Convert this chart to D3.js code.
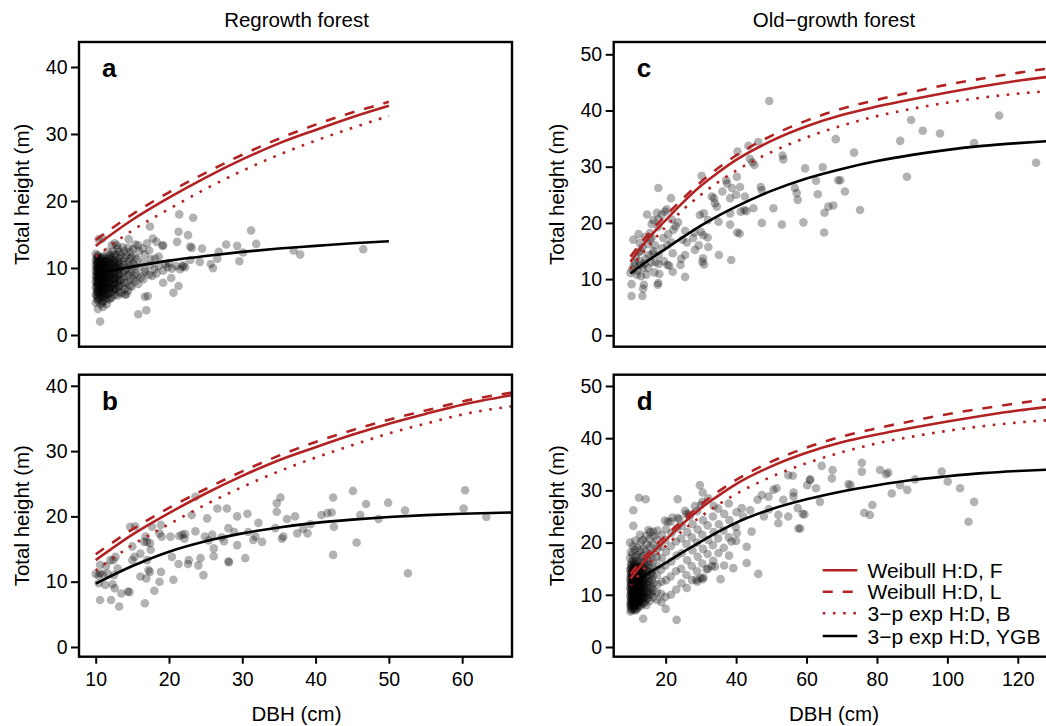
<!DOCTYPE html>
<html>
<head>
<meta charset="utf-8">
<script src="https://cdn.jsdelivr.net/npm/d3@7"></script>
<style>
  body { margin: 0; background: #fff; }
  svg { display: block; }
</style>
</head>
<body>
<div class="container"></div>
<script>
// ---------- data ----------
// fitted curves
var dbhAB = [10, 15, 20, 25, 30, 35, 40, 45, 50, 55, 60, 67];
var weibullF_AB = [13.3, 17.2, 20.5, 23.5, 26.2, 28.6, 30.6, 32.5, 34.2, 35.7, 37.1, 38.6];
var weibullL_AB = [14.2, 18.0, 21.3, 24.2, 26.9, 29.3, 31.4, 33.2, 34.8, 36.2, 37.6, 39.0];
var expB_AB     = [11.7, 15.6, 18.8, 21.8, 24.5, 26.9, 29.0, 30.9, 32.7, 34.2, 35.6, 36.9];
var ygbA        = [9.2, 10.2, 11.1, 11.8, 12.4, 12.9, 13.3, 13.7, 14.0];
var ygbB        = [9.7, 12.4, 14.6, 16.2, 17.4, 18.3, 19.0, 19.5, 19.9, 20.2, 20.4, 20.6];

var dbhCD = [10, 15, 20, 25, 30, 35, 40, 50, 60, 70, 80, 90, 100, 110, 120, 130];
var weibullF_CD = [13.1, 17.2, 20.5, 23.7, 26.6, 29.0, 31.2, 34.6, 37.2, 39.2, 40.7, 42.0, 43.2, 44.3, 45.3, 46.1];
var weibullL_CD = [14.0, 18.0, 21.3, 24.4, 27.3, 29.8, 32.0, 35.5, 38.2, 40.3, 41.9, 43.3, 44.6, 45.7, 46.7, 47.6];
var expB_CD     = [11.8, 15.8, 19.3, 22.4, 25.0, 27.3, 29.3, 32.6, 35.2, 37.3, 39.0, 40.3, 41.4, 42.3, 43.0, 43.5];
var ygbC        = [11.0, 13.3, 15.4, 17.5, 19.5, 21.3, 22.9, 25.7, 27.9, 29.6, 31.0, 32.1, 33.0, 33.7, 34.2, 34.6];
var ygbD        = [12.1, 14.1, 16.1, 18.2, 20.2, 22.1, 23.8, 26.4, 28.3, 29.8, 31.0, 32.0, 32.7, 33.3, 33.7, 34.0];

// trees (DBH cm, height m)
var treesA = [
  [10.6,2.0],[15.8,3.1],[16.9,3.7],[16.7,5.7],[17.1,5.8],[20.6,6.3],[21.3,7.3],[20.3,8.5],[19.2,7.8],[14.0,6.0],[14.2,6.1],[11.5,4.6],
  [21.8,10.2],[22.2,10.1],[21.1,13.9],[21.3,15.4],[21.4,18.0],[23.3,17.5],[22.6,14.9],[22.9,13.2],[23.1,13.0],[22.9,11.2],[24.2,10.9],
  [24.5,12.9],[25.7,10.6],[26.0,9.95],[26.6,11.4],[26.8,12.4],[27.8,13.5],[29.3,13.3],[29.6,11.0],[30.1,12.3],[31.2,15.6],[31.9,13.6],
  [37.0,12.6],[37.9,12.0],[46.5,12.8],[17.4,16.2],[17.8,14.4],[17.0,13.7],[16.4,12.9],[19.1,13.3],[18.1,11.4],[18.6,11.7],[20.0,10.7],
  [14.5,14.3],[15.4,13.5],[12.9,13.4],[10.4,14.3],[10.9,14.4],[12.2,13.4],[12.6,13.7],[15.8,13.4],[18.3,13.9],[19.2,13.4],
  [17.4,10.4],[18.0,9.8],[18.6,10.3],[19.2,9.6],[19.8,10.1],[20.4,9.9],[21.0,10.3],[21.5,9.8],[22.0,10.4],[19.5,10.6],[18.3,9.2],
  [17.7,8.8],[16.8,9.4],[16.2,8.6],[10.3,3.9],[11.0,4.2]
];
var treesAdense = [
  [10.0,4.8],[10.2,5.4],[10.0,6.0],[10.2,6.6],[10.0,7.1],[10.2,7.6],[10.0,8.0],[10.2,8.4],[10.0,8.8],[10.2,9.2],[10.0,9.6],[10.2,10.0],
  [10.0,10.4],[10.2,10.8],[10.0,11.2],[10.2,11.7],[10.0,12.1],
  [10.7,4.6],[10.5,5.3],[10.7,6.0],[10.5,6.6],[10.7,7.2],[10.5,7.7],[10.7,8.2],[10.5,8.6],[10.7,9.0],[10.5,9.4],[10.7,9.8],[10.5,10.2],
  [10.7,10.6],[10.5,11.1],[10.7,11.6],
  [11.0,5.0],[11.2,5.7],[11.0,6.4],[11.2,7.0],[11.0,7.6],[11.2,8.1],[11.0,8.6],[11.2,9.1],[11.0,9.6],[11.2,10.1],[11.0,10.6],[11.2,11.1],[11.0,11.7],
  [11.8,5.3],[11.6,6.1],[11.8,6.8],[11.6,7.4],[11.8,8.0],[11.6,8.6],[11.8,9.2],[11.6,9.8],[11.8,10.4],[11.6,11.0],[11.8,11.7],[11.6,12.4],
  [12.2,5.6],[12.4,6.5],[12.2,7.3],[12.4,8.0],[12.2,8.7],[12.4,9.4],[12.2,10.1],[12.4,10.8],[12.2,11.6],[12.4,12.5],
  [13.0,5.9],[12.8,6.9],[13.0,7.8],[12.8,8.6],[13.0,9.4],[12.8,10.2],[13.0,11.0],[12.8,11.9],[13.0,12.9],
  [13.5,6.2],[13.7,7.3],[13.5,8.3],[13.7,9.2],[13.5,10.1],[13.7,11.0],[13.5,12.0],[13.7,13.1],
  [14.4,6.6],[14.2,7.8],[14.4,8.9],[14.2,9.9],[14.4,10.9],[14.2,11.9],[14.4,13.0],
  [14.9,7.2],[15.1,8.4],[14.9,9.5],[15.1,10.6],[14.9,11.7],[15.1,12.8],
  [15.8,7.6],[15.7,8.9],[15.9,10.1],[15.7,11.3],[15.9,12.5],
  [16.5,8.3],[16.7,9.6],[16.5,10.8],[16.7,12.0],
  [17.3,9.0],[17.5,11.3],[17.3,12.6]
];
var treesAdense2 = [
  [10.3,5.1],[10.3,5.7],[10.3,6.3],[10.3,6.9],[10.3,7.4],[10.3,7.8],[10.3,8.2],[10.3,8.6],[10.3,9.0],[10.3,9.4],[10.3,9.8],[10.3,10.2],
  [10.3,10.6],[10.3,11.0],[10.3,11.5],[10.3,11.9],
  [10.9,4.9],[10.9,5.6],[10.9,6.3],[10.9,6.9],[10.9,7.4],[10.9,7.9],[10.9,8.4],[10.9,8.8],[10.9,9.2],[10.9,9.6],[10.9,10.0],[10.9,10.4],
  [10.9,10.9],[10.9,11.4],
  [11.4,5.4],[11.4,6.0],[11.4,6.7],[11.4,7.3],[11.4,7.8],[11.4,8.3],[11.4,8.9],[11.4,9.4],[11.4,9.9],[11.4,10.4],[11.4,10.9],[11.4,11.4],
  [12.0,5.5],[12.0,6.3],[12.0,7.0],[12.0,7.7],[12.0,8.3],[12.0,8.9],[12.0,9.5],[12.0,10.1],[12.0,10.7],[12.0,11.3],[12.0,12.0],
  [12.6,6.0],[12.6,6.9],[12.6,7.6],[12.6,8.3],[12.6,9.0],[12.6,9.8],[12.6,10.5],[12.6,11.2],[12.6,12.0],
  [13.2,6.4],[13.2,7.3],[13.2,8.2],[13.2,9.0],[13.2,9.8],[13.2,10.6],[13.2,11.5],[13.2,12.4],
  [13.9,6.8],[13.9,7.8],[13.9,8.7],[13.9,9.6],[13.9,10.5],[13.9,11.5],[13.9,12.5],
  [14.7,7.3],[14.7,8.3],[14.7,9.4],[14.7,10.4],[14.7,11.4],[14.7,12.4],
  [15.4,8.0],[15.4,9.2],[15.4,10.3],[15.4,11.5]
];
var treesAdense3 = [
  [10.15,5.9],[10.15,6.5],[10.15,7.2],[10.15,7.9],[10.15,8.6],[10.15,9.3],[10.15,10.0],[10.15,10.7],[10.15,11.4],
  [10.45,6.2],[10.45,6.9],[10.45,7.6],[10.45,8.3],[10.45,9.0],[10.45,9.7],[10.45,10.4],[10.45,11.1],
  [10.8,5.8],[10.8,6.5],[10.8,7.2],[10.8,7.9],[10.8,8.6],[10.8,9.3],[10.8,10.0],[10.8,10.7],[10.8,11.4],
  [11.3,6.1],[11.3,6.8],[11.3,7.5],[11.3,8.2],[11.3,8.9],[11.3,9.6],[11.3,10.3],[11.3,11.0],
  [11.9,6.4],[11.9,7.1],[11.9,7.8],[11.9,8.5],[11.9,9.2],[11.9,9.9],[11.9,10.6],[11.9,11.3],
  [12.5,6.8],[12.5,7.6],[12.5,8.4],[12.5,9.2],[12.5,10.0],[12.5,10.8],
  [13.1,7.2],[13.1,8.1],[13.1,9.0],[13.1,9.9],[13.1,10.8]
];
var treesB = [
  [10.0,11.2],[10.6,12.6],[10.4,11.0],[11.0,11.1],[11.6,11.3],[10.4,9.75],[11.3,9.5],[10.6,7.2],[12.1,7.2],[13.2,6.2],[12.6,9.0],
  [12.3,9.6],[13.5,8.2],[14.4,8.5],[12.0,13.3],[11.4,12.4],[12.7,13.8],[13.0,12.0],[12.5,11.0],[15.0,13.3],[15.3,13.8],[15.0,15.4],
  [14.7,18.4],[15.4,18.5],[16.8,16.9],[16.6,16.1],[17.4,15.9],[16.1,14.3],[17.0,13.3],[17.5,14.9],[17.7,18.4],[18.9,18.7],[19.0,16.9],
  [16.1,10.8],[16.9,10.5],[17.4,11.5],[18.0,8.6],[18.7,10.0],[18.9,11.5],[16.7,6.7],[14.6,8.4],[20.2,16.9],[20.4,13.8],[20.6,10.3],
  [21.4,17.0],[21.8,17.2],[22.1,16.6],[22.2,17.3],[22.7,13.3],[21.3,12.7],[22.6,12.7],[23.6,17.7],[24.0,12.5],[24.3,13.6],[24.7,11.0],
  [25.2,19.7],[23.6,23.0],[24.9,16.9],[25.4,16.3],[25.9,17.2],[26.1,15.1],[26.1,13.9],[26.6,21.2],[27.9,21.2],[27.2,16.8],[27.5,16.2],
  [28.1,18.2],[28.9,17.6],[29.3,20.0],[28.1,13.1],[28.2,13.0],[29.3,15.6],[30.4,13.6],[30.7,20.4],[30.8,17.6],[31.5,16.4],[31.8,16.9],
  [32.2,19.0],[32.7,16.1],[34.7,22.0],[35.2,22.9],[34.7,20.7],[35.4,16.6],[35.6,16.9],[34.5,18.2],[36.1,19.6],[37.2,20.0],[37.5,17.4],
  [38.3,18.1],[38.9,17.4],[39.3,18.8],[40.8,20.2],[41.6,20.5],[42.2,20.6],[42.4,22.9],[42.5,18.4],[42.4,14.1],[45.1,23.9],[45.6,16.0],
  [46.1,20.2],[46.9,21.9],[48.6,19.6],[49.9,22.1],[52.2,20.9],[52.6,11.3],[60.4,24.0],[60.2,21.2],[63.3,19.9],[23.1,20.2],[18.7,17.4],
  [17.0,16.1],[17.2,11.8],[10.6,11.3],[12.4,13.3]
];
var treesC = [
  [10.3,7.0],[13.4,7.0],[13.8,9.0],[13.6,8.3],[10.3,9.1],[10.0,11.1],[11.3,12.9],[11.0,12.4],[10.8,17.0],[12.7,16.4],[13.0,15.0],
  [13.4,15.6],[12.5,13.2],[12.8,12.5],[13.5,12.0],[14.3,13.6],[15.2,14.3],[14.0,12.8],[17.9,9.3],[18.2,10.9],[17.9,26.2],[15.6,17.1],
  [16.0,17.4],[17.9,19.3],[17.9,20.6],[18.9,21.5],[20.3,22.4],[21.5,24.4],[21.7,20.6],[15.5,18.2],[16.0,19.8],[14.7,21.5],[16.5,15.0],
  [18.0,14.3],[17.1,13.0],[18.0,12.7],[16.8,11.2],[22.0,11.3],[20.5,12.5],[21.0,12.4],[22.0,14.6],[20.5,16.0],[21.5,16.6],[20.7,18.0],
  [22.2,18.8],[22.8,19.4],[23.5,20.1],[25.5,10.4],[24.2,12.5],[24.4,13.6],[25.5,14.3],[24.8,17.0],[26.0,16.5],[25.5,18.6],[27.8,17.3],
  [28.2,18.3],[28.3,15.2],[29.7,21.4],[30.2,28.4],[30.4,13.1],[30.6,13.7],[30.9,12.6],[30.8,21.7],[30.0,18.4],[30.7,17.8],[31.9,17.4],
  [29.4,16.0],[32.1,15.7],[32.0,20.5],[33.1,24.7],[33.7,24.4],[34.0,23.5],[34.5,22.9],[35.0,20.2],[35.1,14.3],[36.1,25.6],[37.2,27.6],
  [37.4,27.0],[38.3,24.4],[38.6,13.4],[38.3,21.7],[38.3,19.7],[38.8,26.2],[40.0,25.0],[40.2,28.2],[40.3,18.3],[41.0,18.1],[40.4,32.7],
  [41.1,26.4],[41.3,22.0],[42.3,22.3],[42.9,22.1],[42.5,24.7],[43.5,33.7],[43.9,31.4],[44.6,30.8],[44.9,22.6],[45.2,30.3],[46.3,34.4],
  [47.0,26.4],[47.3,20.0],[47.3,25.8],[49.4,41.7],[50.6,22.6],[53.0,19.7],[53.2,32.0],[53.4,31.3],[56.7,26.2],[57.2,25.3],[57.5,24.1],
  [59.1,20.1],[59.6,29.7],[62.7,27.5],[63.2,25.1],[64.6,29.9],[65.1,21.8],[65.0,18.3],[66.2,22.9],[67.6,23.1],[68.3,34.9],[69.0,27.6],
  [69.6,27.6],[70.9,25.6],[73.5,32.5],[75.2,22.3],[86.6,34.6],[88.5,28.2],[89.7,38.3],[93.0,36.4],[97.9,35.9],[107.6,34.2],[114.7,39.1],
  [125.2,30.7],[11.5,14.0],[12.0,11.5],[13.0,10.5],[14.5,10.8],[15.0,12.0],[15.8,13.0],[16.3,14.5],[17.0,16.0],[12.3,18.0],[14.2,17.5],
  [15.0,16.2],[19.0,15.5],[19.5,13.2],[19.3,17.3],[11.8,10.8],[10.5,11.8],[12.3,14.8],[16.5,20.5],[17.5,21.8],[17.7,9.0],[19.8,22.0]
];
var treesD = [
  [13.6,5.4],[23.1,5.2],[10.8,26.2],[10.8,23.2],[12.4,28.6],[14.3,28.3],[23.4,28.3],[29.7,31.0],[30.5,29.6],[28.3,27.0],[30.0,27.2],
  [26.8,25.0],[26.5,25.4],[23.9,24.5],[21.9,24.8],[20.6,24.0],[15.1,22.4],[16.5,22.1],[19.8,24.2],[23.4,24.7],[25.5,26.1],
  [46.3,14.0],[43.0,16.1],[39.2,15.1],[36.6,15.6],[35.6,13.0],[34.0,15.4],[33.1,15.5],[30.7,13.3],[29.9,13.2],[28.7,12.9],[31.6,14.9],
  [38.7,20.2],[40.2,21.8],[43.0,19.2],[41.6,26.6],[42.0,25.0],[44.4,22.1],[44.0,26.2],[46.1,28.2],[47.3,29.1],[49.2,28.8],[47.9,25.0],
  [49.3,26.4],[50.6,30.1],[52.0,25.3],[52.0,23.7],[51.5,30.4],[53.4,28.2],[56.3,29.6],[54.8,25.0],[54.8,32.9],[56.1,32.8],[56.3,28.8],
  [57.5,26.6],[58.2,22.7],[57.7,22.7],[59.4,25.4],[58.9,25.5],[60.2,31.0],[61.0,32.1],[61.0,32.0],[62.7,30.4],[63.8,27.8],[64.3,34.7],
  [67.2,32.3],[67.4,33.9],[71.9,31.2],[72.5,31.0],[75.7,35.3],[75.7,33.6],[76.4,25.7],[78.0,25.3],[78.7,27.2],[80.9,33.9],[83.2,33.4],
  [82.6,33.1],[84.2,29.4],[86.6,31.0],[88.6,30.1],[90.8,32.1],[98.4,33.6],[100.1,31.7],[103.6,30.4],[106.0,24.0],[107.6,27.8]
];
var treesDdense = [
  [10.0,6.8],[10.1,7.5],[9.9,8.2],[10.1,9.0],[9.9,9.8],[10.1,10.6],[9.9,11.4],[10.1,12.2],[9.9,13.0],[10.1,13.9],[9.9,14.8],[10.1,15.7],[9.9,17.0],[10.1,18.2],[9.9,20.0],
  [10.6,7.2],[10.7,8.0],[10.5,8.8],[10.7,9.6],[10.5,10.4],[10.7,11.2],[10.5,12.0],[10.7,12.8],[10.5,13.6],[10.7,14.5],[10.5,15.5],[10.7,16.5],[10.5,17.7],[10.7,19.3],
  [11.3,7.0],[11.2,7.9],[11.4,8.7],[11.2,9.5],[11.4,10.3],[11.2,11.1],[11.4,11.9],[11.2,12.7],[11.4,13.5],[11.2,14.3],[11.4,15.2],[11.2,16.2],[11.4,17.3],[11.2,18.6],[11.4,20.4],
  [12.0,7.5],[12.1,8.4],[11.9,9.3],[12.1,10.1],[11.9,10.9],[12.1,11.8],[11.9,12.6],[12.1,13.5],[11.9,14.4],[12.1,15.3],[11.9,16.4],[12.1,17.6],[11.9,19.0],
  [12.8,7.8],[12.7,8.8],[12.9,9.7],[12.7,10.6],[12.9,11.5],[12.7,12.4],[12.9,13.3],[12.7,14.2],[12.9,15.1],[12.7,16.1],[12.9,17.2],[12.7,18.5],[12.9,20.1],[12.7,21.5],
  [13.6,8.3],[13.5,9.3],[13.7,10.3],[13.5,11.2],[13.7,12.2],[13.5,13.1],[13.7,14.1],[13.5,15.1],[13.7,16.2],[13.5,17.4],[13.7,18.8],[13.5,20.5],
  [14.5,8.0],[14.4,9.1],[14.6,10.2],[14.4,11.3],[14.6,12.4],[14.4,13.5],[14.6,14.6],[14.4,15.8],[14.6,17.0],[14.4,18.3],[14.6,19.7],[14.4,21.3],
  [15.5,8.8],[15.4,10.0],[15.6,11.2],[15.4,12.5],[15.6,13.8],[15.4,15.1],[15.6,16.4],[15.4,17.8],[15.6,19.2],[15.4,20.7],[15.6,22.0],
  [16.5,9.5],[16.4,10.8],[16.6,12.2],[16.4,13.6],[16.6,15.0],[16.4,16.5],[16.6,18.0],[16.4,19.6],[16.6,21.2],
  [17.6,9.0],[17.5,10.5],[17.7,12.0],[17.5,13.8],[17.7,15.5],[17.5,17.2],[17.7,18.9],[17.5,20.6],[17.7,22.3],
  [18.8,8.6],[18.7,10.2],[18.9,12.5],[18.7,14.8],[18.9,17.0],[18.7,19.2],[18.9,21.4],
  [20.0,7.3],[19.9,9.6],[20.1,12.8],[19.9,15.6],[20.1,18.2],[19.9,20.5],[20.1,22.6],
  [21.5,10.0],[21.4,13.5],[21.6,16.4],[21.4,19.3],[21.6,21.8],[21.4,24.0],
  [23.0,11.0],[22.9,14.5],[23.1,17.5],[22.9,20.2],[23.1,22.7],
  [24.5,12.2],[24.4,15.0],[24.6,18.0],[24.4,20.8],[24.6,23.2],
  [26.0,11.3],[25.9,13.8],[26.1,16.6],[25.9,19.7],[26.1,22.0],[25.9,25.5],
  [27.5,12.8],[27.4,15.5],[27.6,18.5],[27.4,21.0],[27.6,23.5],
  [29.0,12.5],[28.9,14.5],[29.1,17.3],[28.9,20.0],[29.1,22.5],[28.9,26.0],
  [30.5,13.0],[30.4,16.0],[30.6,18.8],[30.4,21.5],[30.6,24.3],[30.4,27.8],
  [32.0,15.0],[31.9,17.8],[32.1,20.5],[31.9,23.3],[32.1,28.5],
  [33.5,16.5],[33.4,19.5],[33.6,22.0],[33.4,25.0],[33.6,27.0],
  [35.0,18.0],[34.9,20.8],[35.1,23.5],[34.9,26.5],
  [36.5,19.0],[36.4,22.3],[36.6,25.5],
  [38.0,17.5],[37.9,21.0],[38.1,24.3],[37.9,27.5],
  [40.0,20.3],[39.9,23.0],[40.1,25.8]
];
var treesDdense2 = [
  [10.3,7.1],[10.3,7.9],[10.3,8.6],[10.3,9.4],[10.3,10.2],[10.3,11.0],[10.3,11.8],[10.3,12.6],[10.3,13.4],[10.3,14.3],[10.3,15.2],[10.3,16.2],
  [11.0,7.4],[11.0,8.3],[11.0,9.1],[11.0,9.9],[11.0,10.7],[11.0,11.5],[11.0,12.3],[11.0,13.1],[11.0,13.9],[11.0,14.8],[11.0,15.8],
  [11.7,7.2],[11.7,8.1],[11.7,9.0],[11.7,9.8],[11.7,10.6],[11.7,11.4],[11.7,12.3],[11.7,13.1],[11.7,14.0],[11.7,14.9],[11.7,15.9],
  [12.4,7.9],[12.4,8.9],[12.4,9.8],[12.4,10.7],[12.4,11.6],[12.4,12.5],[12.4,13.4],[12.4,14.3],[12.4,15.3],
  [13.2,8.4],[13.2,9.4],[13.2,10.4],[13.2,11.4],[13.2,12.4],[13.2,13.4],[13.2,14.5],[13.2,15.6],
  [14.0,8.6],[14.0,9.7],[14.0,10.8],[14.0,11.9],[14.0,13.0],[14.0,14.1],[14.0,15.3],
  [15.0,9.4],[15.0,10.6],[15.0,11.8],[15.0,13.1],[15.0,14.4],[15.0,15.7],
  [16.0,10.2],[16.0,11.5],[16.0,12.9],[16.0,14.3]
];
var treesDdense3 = [
  [10.15,7.8],[10.15,8.6],[10.15,9.4],[10.15,10.2],[10.15,11.0],[10.15,11.8],[10.15,12.6],[10.15,13.4],[10.15,14.2],[10.15,15.0],
  [10.6,8.2],[10.6,9.0],[10.6,9.8],[10.6,10.6],[10.6,11.4],[10.6,12.2],[10.6,13.0],[10.6,13.8],[10.6,14.6],
  [11.1,7.8],[11.1,8.6],[11.1,9.4],[11.1,10.2],[11.1,11.0],[11.1,11.8],[11.1,12.6],[11.1,13.4],[11.1,14.2],[11.1,15.0],
  [11.6,8.4],[11.6,9.2],[11.6,10.0],[11.6,10.8],[11.6,11.6],[11.6,12.4],[11.6,13.2],[11.6,14.0],
  [12.2,8.6],[12.2,9.5],[12.2,10.4],[12.2,11.3],[12.2,12.2],[12.2,13.1],[12.2,14.0],
  [12.9,9.0],[12.9,10.0],[12.9,11.0],[12.9,12.0],[12.9,13.0],[12.9,14.0],
  [13.7,9.5],[13.7,10.6],[13.7,11.7],[13.7,12.8],[13.7,13.9]
];

var ticksH40 = [0, 10, 20, 30, 40],
    ticksH50 = [0, 10, 20, 30, 40, 50],
    ticksDbhAB = [10, 20, 30, 40, 50, 60],
    ticksDbhCD = [20, 40, 60, 80, 100, 120];

var legendLabels = ['Weibull H:D, F', 'Weibull H:D, L', '3\u2212p exp H:D, B', '3\u2212p exp H:D, YGB'];

// ---------- drawing ----------
var WIDTH = 1046, HEIGHT = 726,
    RED = '#b22222',
    FONT = '"Liberation Sans", Arial, Helvetica, sans-serif';

var styles = [
  {color: RED, dash: null},
  {color: RED, dash: '10,10'},
  {color: RED, dash: '2.6,7.6'},
  {color: '#000', dash: null}
];

var svg = d3.select('.container').append('svg')
  .attr('width', WIDTH)
  .attr('height', HEIGHT)
  .style('font-family', FONT);

function zipCurve(xs, ys) {
  return ys.map(function(v, i) { return [xs[i], v]; });
}

function drawPanel(p, id) {
  var x = d3.scaleLinear().domain(p.xDom).range([p.x0, p.x1]);
  var y = d3.scaleLinear().domain(p.yDom).range([p.y1, p.y0]);
  var g = svg.append('g');

  g.append('clipPath').attr('id', 'clip' + id)
    .append('rect')
    .attr('x', p.x0).attr('y', p.y0)
    .attr('width', p.x1 - p.x0).attr('height', p.y1 - p.y0);

  var plot = g.append('g').attr('clip-path', 'url(#clip' + id + ')');

  plot.selectAll('circle')
    .data(p.trees).enter()
    .append('circle')
    .attr('cx', function(d) { return x(d[0]); })
    .attr('cy', function(d) { return y(d[1]); })
    .attr('r', 4.3)
    .attr('fill', '#000')
    .attr('fill-opacity', 0.3);

  var line = d3.line()
    .curve(d3.curveMonotoneX)
    .x(function(d) { return x(d[0]); })
    .y(function(d) { return y(d[1]); });

  p.curves.forEach(function(c, i) {
    plot.append('path')
      .datum(zipCurve(p.dbh, c))
      .attr('fill', 'none')
      .attr('stroke', styles[i].color)
      .attr('stroke-width', 2.6)
      .attr('stroke-dasharray', styles[i].dash)
      .attr('d', line);
  });

  var yAxis = g.append('g')
    .attr('transform', 'translate(' + p.x0 + ',0)')
    .call(d3.axisLeft(y).tickValues(p.yTicks).tickSize(8).tickPadding(3.5));
  yAxis.select('.domain').remove();
  yAxis.selectAll('line').attr('stroke-width', 2);
  yAxis.selectAll('text').attr('font-size', 19.5).attr('font-family', FONT).attr('fill', '#000');

  if (p.xTicks) {
    var xAxis = g.append('g')
      .attr('transform', 'translate(0,' + p.y1 + ')')
      .call(d3.axisBottom(x).tickValues(p.xTicks).tickSize(7).tickPadding(8));
    xAxis.select('.domain').remove();
    xAxis.selectAll('line').attr('stroke-width', 2);
    xAxis.selectAll('text').attr('font-size', 19.5).attr('font-family', FONT).attr('fill', '#000');

    g.append('text')
      .attr('x', (p.x0 + p.x1) / 2 + 1)
      .attr('y', 720.5)
      .attr('text-anchor', 'middle')
      .attr('font-size', 20.5)
      .text('DBH (cm)');
  }

  g.append('rect')
    .attr('x', p.x0).attr('y', p.y0)
    .attr('width', p.x1 - p.x0).attr('height', p.y1 - p.y0)
    .attr('fill', 'none')
    .attr('stroke', '#000')
    .attr('stroke-width', 2.4);

  g.append('text')
    .attr('x', p.x0 + 23)
    .attr('y', p.y0 + 35)
    .attr('font-size', 26)
    .attr('font-weight', 'bold')
    .text(p.letter);

  g.append('text')
    .attr('transform', 'translate(' + (p.x0 - 50) + ',' + ((p.y0 + p.y1) / 2) + ') rotate(-90)')
    .attr('text-anchor', 'middle')
    .attr('font-size', 20.5)
    .text('Total height (m)');

  if (p.title) {
    g.append('text')
      .attr('x', (p.x0 + p.x1) / 2 + 1)
      .attr('y', 26.5)
      .attr('text-anchor', 'middle')
      .attr('font-size', 20.5)
      .text(p.title);
  }
}

function drawLegend() {
  var lg = svg.append('g');
  var rows = [570.3, 591.7, 613.3, 636];
  legendLabels.forEach(function(label, i) {
    lg.append('line')
      .attr('x1', 822.7).attr('x2', 857.3)
      .attr('y1', rows[i]).attr('y2', rows[i])
      .attr('stroke', styles[i].color)
      .attr('stroke-width', 2.6)
      .attr('stroke-dasharray', styles[i].dash);
    lg.append('text')
      .attr('x', 867.5)
      .attr('y', rows[i] + 7.5)
      .attr('font-size', 21)
      .text(label);
  });
}

var panels = [
  {letter: 'a', title: 'Regrowth forest', x0: 79, x1: 512, y0: 42, y1: 346.7,
   xDom: [7.72, 66.8], yDom: [-1.75, 43.73], yTicks: ticksH40, xTicks: null,
   trees: treesA.concat(treesAdense, treesAdense2, treesAdense3), dbh: dbhAB.slice(0, 9),
   curves: [weibullF_AB.slice(0, 9), weibullL_AB.slice(0, 9), expB_AB.slice(0, 9), ygbA]},
  {letter: 'b', title: null, x0: 79, x1: 512, y0: 374.7, y1: 656.7,
   xDom: [7.72, 66.8], yDom: [-1.49, 41.7], yTicks: ticksH40, xTicks: ticksDbhAB,
   trees: treesB, dbh: dbhAB,
   curves: [weibullF_AB, weibullL_AB, expB_AB, ygbB]},
  {letter: 'c', title: 'Old\u2212growth forest', x0: 613.7, x1: 1052.3, y0: 42, y1: 346.7,
   xDom: [5.23, 129.8], yDom: [-2.03, 52.19], yTicks: ticksH50, xTicks: null,
   trees: treesC, dbh: dbhCD,
   curves: [weibullF_CD, weibullL_CD, expB_CD, ygbC]},
  {letter: 'd', title: null, x0: 613.7, x1: 1052.3, y0: 374.7, y1: 656.7,
   xDom: [5.23, 129.8], yDom: [-1.86, 52.16], yTicks: ticksH50, xTicks: ticksDbhCD,
   trees: treesD.concat(treesDdense, treesDdense2, treesDdense3), dbh: dbhCD,
   curves: [weibullF_CD, weibullL_CD, expB_CD, ygbD]}
];

panels.forEach(function(p, i) { drawPanel(p, i); });
drawLegend();
</script>
</body>
</html>
